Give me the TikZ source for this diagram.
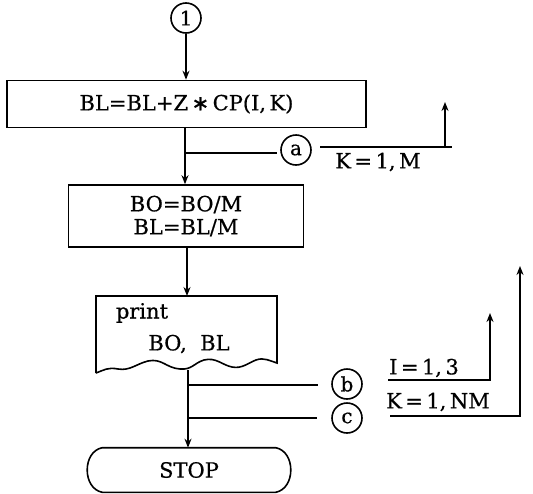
\documentclass[tikz,border=0pt]{standalone}
\usepackage{fontspec}
\setmainfont{DejaVu Serif}[FakeBold=0.6]
\newfontfamily\symf{DejaVu Sans}[FakeBold=1]
\usetikzlibrary{arrows.meta}
\begin{document}
\begin{tikzpicture}[x=1pt,y=-1pt,line width=1.6pt,
  font=\fontsize{21}{23}\selectfont,
  arr/.style={-{Stealth[length=9pt,width=7pt]}},
  conn/.style={circle,draw,minimum size=30pt,inner sep=0pt,font=\fontsize{20}{20}\selectfont},
  proc/.style={draw,rectangle,inner sep=0pt,align=center},
  lbl/.style={inner sep=0pt}]
\useasboundingbox (0,0) rectangle (533,493);
% nodes
\node[conn] (c1) at (186,18) {1};
\node[proc,minimum width=359pt,minimum height=47pt] (box1) at (186.5,104) {BL=BL+Z\,{\symf ∗}\,CP(I,\,K)};
\node[proc,minimum width=235pt,minimum height=62pt] (box2) at (186,216) {BO=BO/M\\BL=BL/M};
\node[lbl] (prt) at (142,313) {print};
\node[lbl] (bobl) at (189,344) {BO,\ \ BL};
\node[inner sep=0pt,minimum width=172pt,minimum height=43pt] (stop) at (189,470) {STOP};
\node[conn] (ca) at (296,150) {a};
\node[conn] (cb) at (347,384) {b};
\node[conn] (cc) at (347,418) {c};
\node[lbl] (lk1) at (378,162) {K$\,$=$\,$1,\,M};
\node[lbl] (li) at (424,368) {I$\,$=$\,$1,\,3};
\node[lbl] (lk2) at (438,402) {K$\,$=$\,$1,\,NM};
% print (document) shape
\coordinate (ptop) at (187,296);
\coordinate (pbot) at (188,370);
\draw (96,373) -- (96,296) -- (277,296) -- (277,363)
  .. controls (270,361) and (264,357) .. (256,360)
  .. controls (248,363) and (242,369) .. (232,367)
  .. controls (222,365) and (216,357) .. (204,360)
  .. controls (194,363) and (192,370) .. (180,369)
  .. controls (166,368) and (162,358) .. (148,361)
  .. controls (136,364) and (130,371) .. (118,369)
  .. controls (108,367) and (104,370) .. (96,373);
% stop shape
\draw (stop.north west) -- (stop.north east)
  .. controls ([shift={(20,4)}]stop.north east) and ([shift={(20,-4)}]stop.south east) .. (stop.south east)
  -- (stop.south west)
  .. controls ([shift={(-20,-4)}]stop.south west) and ([shift={(-20,4)}]stop.north west) .. (stop.north west) -- cycle;
% main flow
\draw[arr] (c1) -- (c1 |- box1.north);
\draw[arr] (box1.south -| 185,0) -- (box2.north -| 185,0);
\draw[arr] (box2.south -| 187,0) -- (ptop);
\draw[arr] (pbot) -- (stop.north -| pbot);
% loop a
\coordinate (ja) at (185,153);
\coordinate (ea) at (277,153);
\draw (ja) -- (ea);
\coordinate (ra1) at (320,147);
\coordinate (ra2) at (452,147);
\coordinate (ra3) at (445,147);
\coordinate (ra4) at (445,102);
\draw (ra1) -- (ra2);
\draw[arr] (ra3) -- (ra4);
% loops b c
\coordinate (jb) at (188,385);
\coordinate (eb) at (318,385);
\coordinate (jc) at (188,418);
\coordinate (ec) at (317,418);
\draw (jb) -- (eb);
\draw (jc) -- (ec);
\coordinate (rb1) at (388,380);
\coordinate (rb2) at (490,380);
\coordinate (rb3) at (490,313);
\draw[arr] (rb1) -- (rb2) -- (rb3);
\coordinate (rc1) at (390,416);
\coordinate (rc2) at (520,416);
\coordinate (rc3) at (520,266);
\draw[arr] (rc1) -- (rc2) -- (rc3);
\end{tikzpicture}
\end{document}
